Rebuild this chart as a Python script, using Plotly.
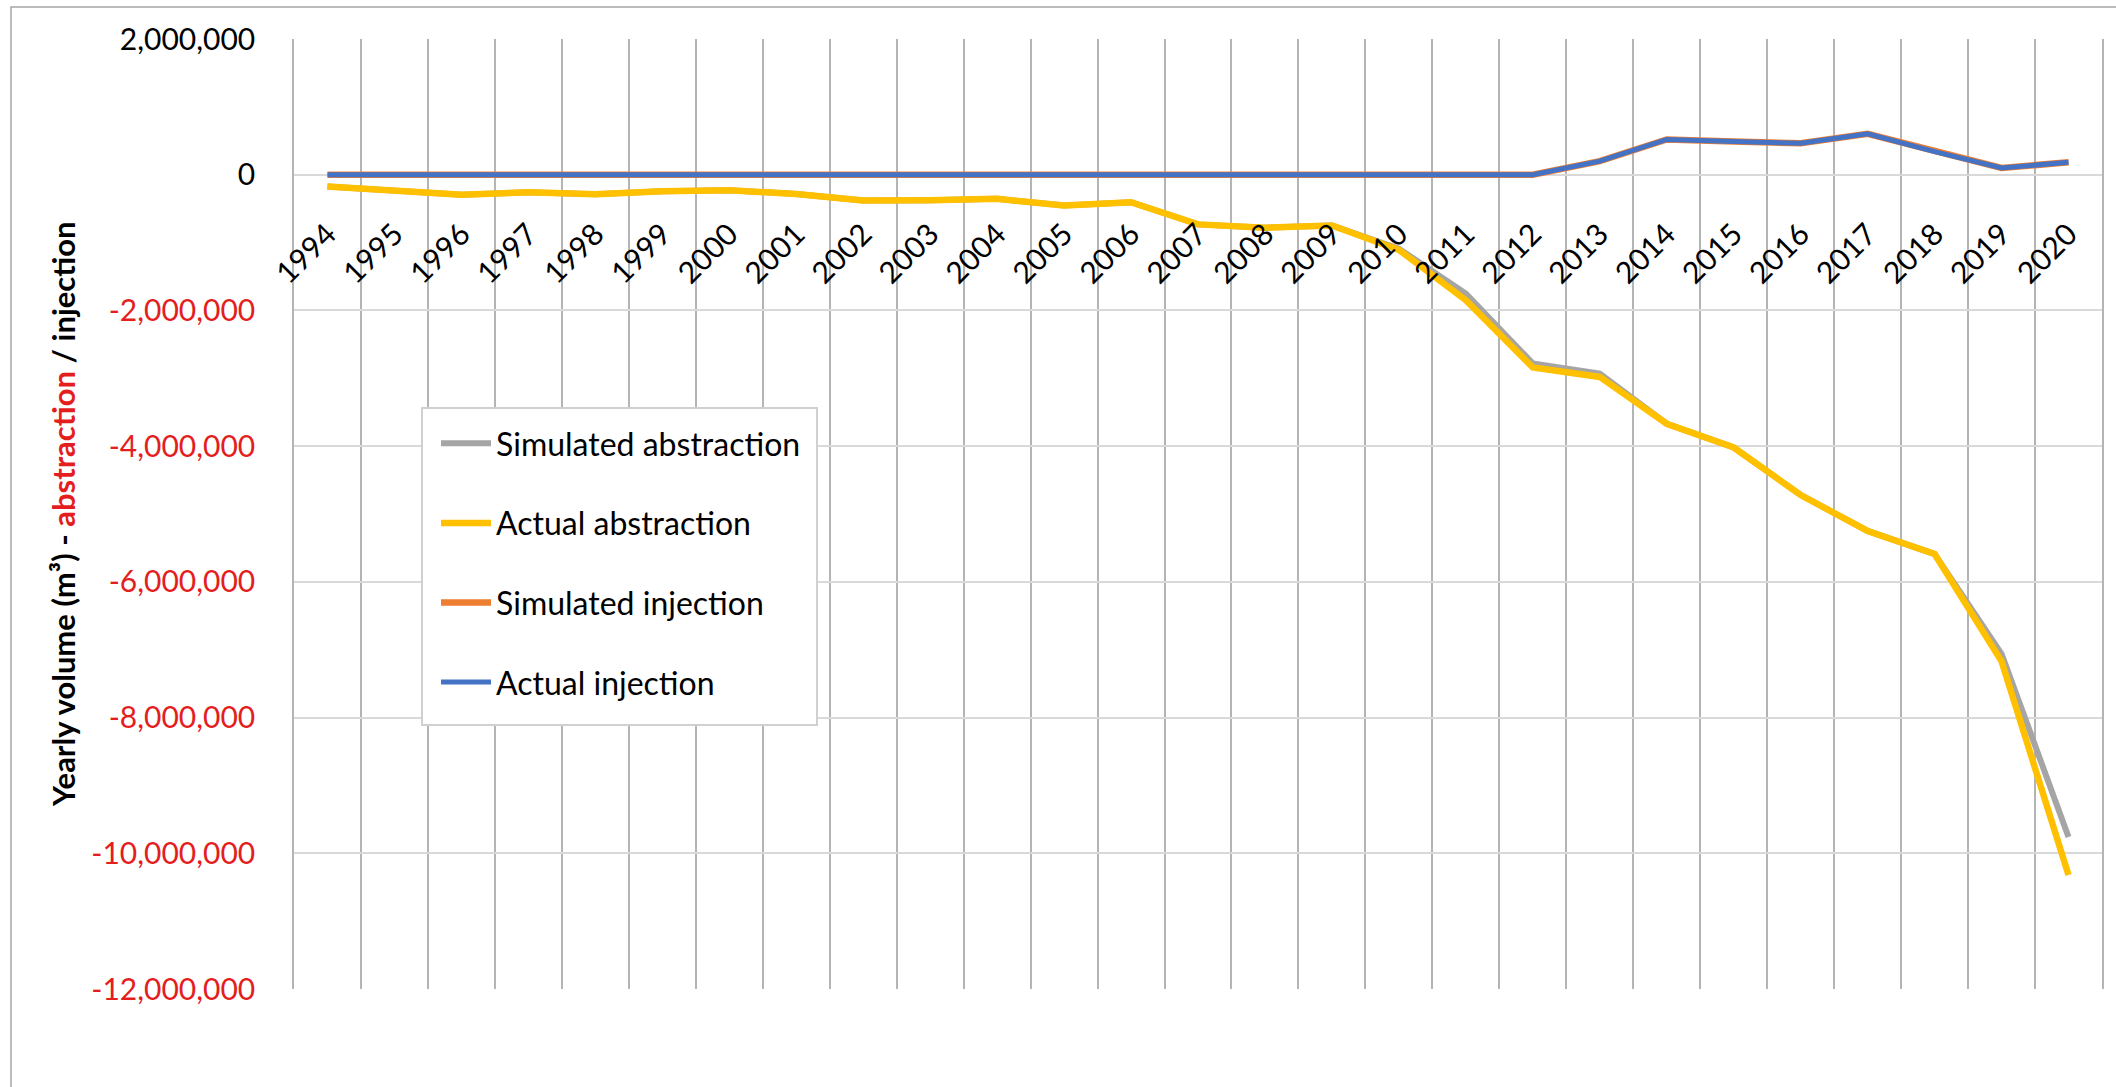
import plotly.graph_objects as go

# Yearly volumes, m³ (abstraction negative, injection positive)
years = [str(y) for y in range(1994, 2021)]

simulated_abstraction = [
    -175e3, -245e3, -295e3, -258e3, -287e3, -243e3, -229e3, -283e3, -380e3,
    -378e3, -356e3, -454e3, -405e3, -732e3, -780e3, -748e3, -1090e3, -1750e3,
    -2780e3, -2930e3, -3670e3, -4020e3, -4720e3, -5250e3, -5590e3, -7060e3,
    -9760e3,
]
actual_abstraction = [
    -175e3, -245e3, -295e3, -258e3, -287e3, -243e3, -229e3, -283e3, -380e3,
    -378e3, -356e3, -454e3, -405e3, -732e3, -780e3, -748e3, -1107e3, -1850e3,
    -2840e3, -2980e3, -3670e3, -4020e3, -4720e3, -5250e3, -5590e3, -7170e3,
    -10320e3,
]
simulated_injection = [0] * 19 + [200e3, 520e3, 488e3, 463e3, 603e3, 340e3, 100e3, 183e3]
actual_injection = [0] * 19 + [200e3, 520e3, 488e3, 463e3, 603e3, 340e3, 100e3, 183e3]

y_ticks = list(range(-12_000_000, 2_000_001, 2_000_000))

RED = "#e41e1e"
FONT = "Lato"

# figure geometry (pixels)
W, H = 2116, 1087
L, R, T, B = 294, 14, 39, 98
PW, PH = W - L - R, H - T - B


def px_to_paper_x(px):
    return (px - L) / PW


def px_to_paper_y(py):
    return (H - B - py) / PH


def tick_label(v):
    s = f"{v:,}"
    return f"<span style='color:{RED}'>{s}</span>" if v < 0 else s


series = [
    ("Simulated abstraction", simulated_abstraction, "#a5a5a5", 6),
    ("Actual abstraction", actual_abstraction, "#ffc000", 6.5),
    ("Simulated injection", simulated_injection, "#ed7d31", 6.5),
    ("Actual injection", actual_injection, "#4472c4", 5),
]

fig = go.Figure()
for i, (name, vals, color, width) in enumerate(series):
    fig.add_trace(go.Scatter(
        x=years, y=vals, name=name, mode="lines",
        line=dict(color=color, width=width),
        legendgroup=f"g{i}",
    ))

ymin, ymax = y_ticks[0], y_ticks[-1]

fig.update_layout(
    width=W, height=H,
    margin=dict(l=L, r=R, t=T, b=B, autoexpand=False),
    paper_bgcolor="white", plot_bgcolor="white",
    font=dict(family=FONT, size=30, color="#000000"),
    showlegend=True,
    legend=dict(
        x=px_to_paper_x(436), y=px_to_paper_y(416),
        xanchor="left", yanchor="top",
        bgcolor="rgba(0,0,0,0)", borderwidth=0,
        font=dict(family=FONT, size=32, color="#000000"),
        tracegroupgap=35, itemwidth=50,
        traceorder="grouped",
    ),
    xaxis=dict(
        type="category", categoryorder="array", categoryarray=years,
        tickson="boundaries", ticks="",
        showgrid=True, gridcolor="#b4b4b4", gridwidth=1.5,
        tickangle=-45, tickfont=dict(family=FONT, size=30, color="#000000"),
        anchor="free", position=(0 - ymin) / (ymax - ymin),
        ticklabelstandoff=35,
        showline=False, zeroline=False,
        range=[-0.5, len(years) - 0.5],
    ),
    yaxis=dict(
        range=[ymin, ymax],
        tickvals=y_ticks, ticktext=[tick_label(v) for v in y_ticks],
        showgrid=True, gridcolor="#d9d9d9", gridwidth=2,
        zeroline=True, zerolinecolor="#d9d9d9", zerolinewidth=2,
        showline=True, mirror=True, linecolor="#b4b4b4", linewidth=1.5,
        ticks="", ticklabelstandoff=31,
        tickfont=dict(family=FONT, size=30, color="#000000"),
    ),
    annotations=[dict(
        text=("<b>Yearly volume (m³) - "
              f"<span style='color:{RED}'>abstraction</span> / injection</b>"),
        xref="paper", yref="paper",
        x=px_to_paper_x(63), y=0.5,
        xanchor="center", yanchor="middle",
        textangle=-90, showarrow=False,
        font=dict(family=FONT, size=31, color="#000000"),
    )],
    shapes=[
        # chart-area border
        dict(
            type="rect", xref="paper", yref="paper", layer="below",
            x0=px_to_paper_x(11), x1=px_to_paper_x(W + 30),
            y0=px_to_paper_y(H + 30), y1=px_to_paper_y(7),
            line=dict(color="#a6a6a6", width=1.5),
            fillcolor="rgba(0,0,0,0)",
        ),
        # legend box
        dict(
            type="rect", xref="paper", yref="paper", layer="above",
            x0=px_to_paper_x(422), x1=px_to_paper_x(817),
            y0=px_to_paper_y(725), y1=px_to_paper_y(408),
            line=dict(color="#d0d0d0", width=2),
            fillcolor="white",
        ),
    ],
)

fig.write_html("out.html")
